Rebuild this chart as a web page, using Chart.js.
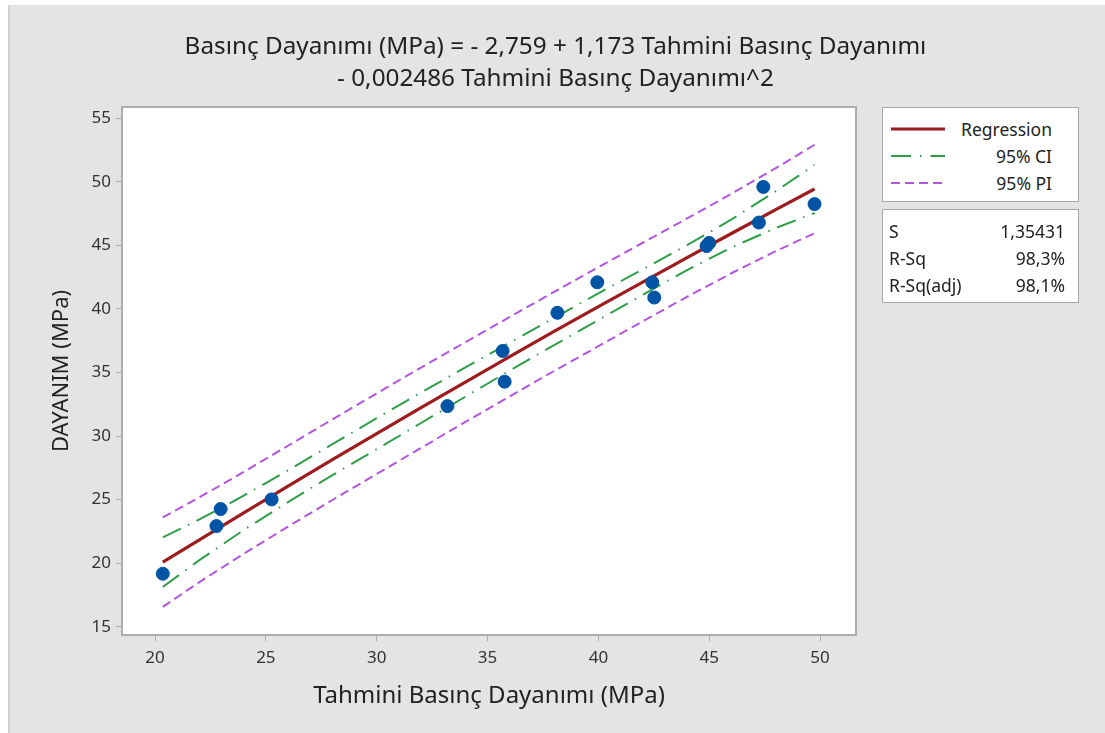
<!DOCTYPE html>
<html>
<head>
<meta charset="utf-8">
<script src="https://cdn.jsdelivr.net/npm/chart.js@4.4.1/dist/chart.umd.min.js"></script>
<style>
  body { margin: 0; background: #fff; font-family: "Noto Sans", sans-serif; color: #222; }
  #panel { position: absolute; left: 8px; top: 5px; width: 1097px; height: 728px;
           background: #e4e4e4; border-left: 2px solid #d2d2d2; box-sizing: border-box; }
  #wrap { position: absolute; left: 0; top: 0; width: 1105px; height: 733px; }
  #title { position: absolute; left: 0; top: 29px; width: 1111px; text-align: center;
           font-size: 24.3px; line-height: 32px; color: #222; }
  .box { position: absolute; left: 882px; width: 197px; background: #fff;
         border: 1.5px solid #a6a6a6; box-sizing: border-box; font-size: 17.5px; color: #222; }
  .row { position: absolute; left: 0; right: 0; height: 22px; line-height: 22px; }
  .row svg { position: absolute; left: 7px; top: 5px; }
  .lbl { position: absolute; right: 26px; }
  .sl { position: absolute; left: 6px; }
  .sv { position: absolute; right: 13px; }
</style>
</head>
<body>
<div id="panel"></div>
<div id="wrap"><canvas id="myChart" width="1105" height="733"></canvas></div>

<div id="title">Basınç Dayanımı (MPa) = - 2,759 + 1,173 Tahmini Basınç Dayanımı<br>- 0,002486 Tahmini Basınç Dayanımı^2</div>

<div class="box" style="top:107px;height:95px">
  <div class="row" style="top:10px">
    <svg width="56" height="12"><line x1="1" y1="6" x2="55" y2="6" stroke="#9e1b1e" stroke-width="3.2"/></svg>
    <span class="lbl">Regression</span>
  </div>
  <div class="row" style="top:37px">
    <svg width="56" height="12"><line x1="1" y1="6" x2="55" y2="6" stroke="#2e9e48" stroke-width="2" stroke-dasharray="20,9,1.5,9"/></svg>
    <span class="lbl">95% CI</span>
  </div>
  <div class="row" style="top:64px">
    <svg width="56" height="12"><line x1="1" y1="6" x2="55" y2="6" stroke="#b455e0" stroke-width="2" stroke-dasharray="9,5"/></svg>
    <span class="lbl">95% PI</span>
  </div>
</div>

<div class="box" style="top:209px;height:94px">
  <div class="row" style="top:10px"><span class="sl">S</span><span class="sv">1,35431</span></div>
  <div class="row" style="top:37px"><span class="sl">R-Sq</span><span class="sv">98,3%</span></div>
  <div class="row" style="top:64px"><span class="sl">R-Sq(adj)</span><span class="sv">98,1%</span></div>
</div>

<script>
// observed strength vs predicted strength
var obsX = [20.35, 22.77, 22.96, 25.26, 33.19, 35.68, 35.77, 38.15, 39.95, 42.43, 42.52, 44.88, 45.0, 47.24, 47.44, 49.75];
var obsY = [19.17, 22.92, 24.26, 25.02, 32.36, 36.7, 34.28, 39.7, 42.1, 42.1, 40.9, 44.95, 45.2, 46.8, 49.6, 48.25];

// fitted curve and 95% bands
var fitX    = [20.35, 22, 24, 26, 28, 30, 32, 34, 36, 38, 40, 42, 44, 46, 48, 49.75];
var fitY    = [20.08, 21.84, 23.96, 26.06, 28.14, 30.19, 32.23, 34.25, 36.25, 38.23, 40.18, 42.12, 44.04, 45.94, 47.82, 49.44];
var ciUpper = [22.03, 23.44, 25.31, 27.31, 29.36, 31.41, 33.43, 35.40, 37.35, 39.30, 41.23, 43.12, 45.02, 47.04, 49.27, 51.33];
var ciLower = [18.13, 20.24, 22.61, 24.81, 26.92, 28.97, 31.03, 33.10, 35.15, 37.16, 39.13, 41.12, 43.06, 44.84, 46.37, 47.55];
var piUpper = [23.60, 25.18, 27.18, 29.24, 31.31, 33.36, 35.39, 37.39, 39.37, 41.34, 43.29, 45.21, 47.12, 49.06, 51.08, 52.92];
var piLower = [16.56, 18.51, 20.74, 22.88, 24.97, 27.02, 29.07, 31.11, 33.13, 35.12, 37.07, 39.03, 40.96, 42.81, 44.55, 45.96];

var xTicks = [20, 25, 30, 35, 40, 45, 50];
var yTicks = [15, 20, 25, 30, 35, 40, 45, 50, 55];

function pairs(xs, ys) {
    var out = [];
    for (var i = 0; i < xs.length; i++) out.push({x: xs[i], y: ys[i]});
    return out;
}

function band(ys, color, dash) {
    return {
        data: pairs(fitX, ys),
        showLine: true,
        borderColor: color,
        borderWidth: 2,
        borderDash: dash,
        pointRadius: 0,
        fill: false
    };
}

// white plot area with grey frame
var plotFrame = {
    id: 'plotFrame',
    beforeDraw: function(chart) {
        var a = chart.chartArea, ctx = chart.ctx;
        ctx.save();
        ctx.fillStyle = '#ffffff';
        ctx.fillRect(a.left, a.top, a.right - a.left, a.bottom - a.top);
        ctx.restore();
    },
    beforeDatasetsDraw: function(chart) {
        var a = chart.chartArea, ctx = chart.ctx;
        ctx.save();
        ctx.strokeStyle = '#acacac';
        ctx.lineWidth = 2;
        ctx.strokeRect(a.left, a.top, a.right - a.left, a.bottom - a.top);
        ctx.restore();
    }
};

var tickFont = {family: 'Noto Sans', size: 17};
var ctx = document.getElementById('myChart').getContext('2d');
var chart = new Chart(ctx, {
    type: 'scatter',
    data: {
        datasets: [
            {
                data: pairs(obsX, obsY),
                backgroundColor: '#0054a6',
                borderColor: '#0054a6',
                pointRadius: 6.5,
                pointHoverRadius: 6.5
            },
            {
                data: pairs(fitX, fitY),
                showLine: true,
                borderColor: '#9e1b1e',
                borderWidth: 3.2,
                pointRadius: 0,
                fill: false
            },
            band(ciUpper, '#2e9e48', [20, 8, 1.5, 8]),
            band(ciLower, '#2e9e48', [20, 8, 1.5, 8]),
            band(piUpper, '#b455e0', [9, 5]),
            band(piLower, '#b455e0', [9, 5])
        ]
    },
    plugins: [plotFrame],
    options: {
        responsive: false,
        animation: false,
        layout: {padding: {left: 40, top: 107, right: 249, bottom: 20}},
        plugins: {
            legend: {display: false},
            tooltip: {enabled: false},
            title: {display: false}
        },
        scales: {
            x: {
                type: 'linear',
                min: 18.51,
                max: 51.62,
                afterFit: function(s) { s.height = 78; },
                afterBuildTicks: function(s) { s.ticks = xTicks.map(function(v) { return {value: v}; }); },
                border: {display: false},
                grid: {drawOnChartArea: false, drawTicks: true, tickLength: 6, color: '#a8a8a8'},
                ticks: {color: '#333', font: tickFont, padding: 7},
                title: {display: true, text: 'Tahmini Basınç Dayanımı (MPa)', color: '#222',
                        font: {family: 'Noto Sans', size: 24}, padding: {top: 0, bottom: 2}}
            },
            y: {
                type: 'linear',
                min: 14.35,
                max: 55.89,
                afterFit: function(s) { s.width = 82; },
                afterBuildTicks: function(s) { s.ticks = yTicks.map(function(v) { return {value: v}; }); },
                border: {display: false},
                grid: {drawOnChartArea: false, drawTicks: true, tickLength: 6, color: '#a8a8a8'},
                ticks: {color: '#333', font: tickFont, padding: 5},
                title: {display: true, text: 'DAYANIM (MPa)', color: '#222',
                        font: {family: 'Noto Sans', size: 22}, padding: {top: 9, bottom: 0}}
            }
        }
    }
});
</script>
</body>
</html>
